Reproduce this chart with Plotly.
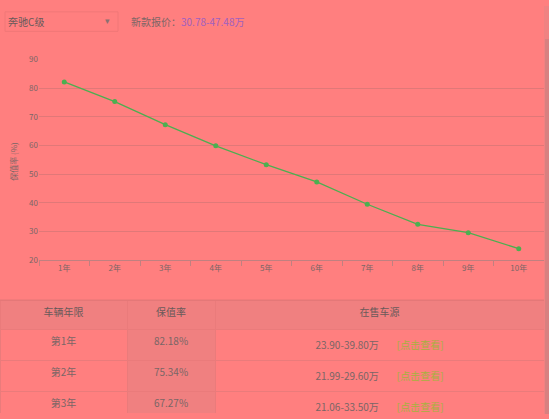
import plotly.graph_objects as go

# data
years = ["1年", "2年", "3年", "4年", "5年", "6年", "7年", "8年", "9年", "10年"]
rates = [82.18, 75.34, 67.27, 59.9, 53.3, 47.3, 39.5, 32.5, 29.6, 24.0]

car_name = "奔驰C级"
new_price = "30.78-47.48万"

table_header = ["车辆年限", "保值率", "在售车源"]
table_years = ["第1年", "第2年", "第3年"]
table_rates = ["82.18%", "75.34%", "67.27%"]
table_prices = ["23.90-39.80万", "21.99-29.60万", "21.06-33.50万"]
link_text = "[点击查看]"

W, H = 549, 419
BG = "#FF7F7F"
DARK = "#F08080"
GRID = "#E07878"
TXT = "#7a6666"
FONT = "Noto Sans CJK SC"

fig = go.Figure()

fig.add_trace(go.Scatter(
    x=years, y=rates, mode="lines+markers",
    line=dict(color="#4CAF50", width=1.3),
    marker=dict(color="#4CAF50", size=5),
    showlegend=False, hoverinfo="skip",
))

src_cells = [p + "        <span style='color:#A8B040'>" + link_text + "</span>"
             for p in table_prices]

fig.add_trace(go.Table(
    domain=dict(x=[0, 544 / W], y=[0, (H - 302) / H]),
    columnwidth=[127, 88, 329],
    header=dict(
        values=table_header, height=29, align="center",
        fill_color=DARK, line=dict(color="#EA7B7B", width=1),
        font=dict(family=FONT, size=10, color="#6a5a5a"),
    ),
    cells=dict(
        values=[table_years, table_rates, src_cells], height=29, align="center",
        fill_color=[BG, DARK, BG], line=dict(color="#EA7B7B", width=1),
        font=dict(family=FONT, size=10, color=TXT),
    ),
))

fig.update_layout(
    width=W, height=H,
    margin=dict(l=0, r=0, t=0, b=0),
    paper_bgcolor=BG, plot_bgcolor=BG,
    font=dict(family=FONT, color=TXT),
    xaxis=dict(
        domain=[39 / W, 544 / W], type="category", range=[-0.5, 9.5],
        showgrid=False, showline=True, linecolor="#c08080", linewidth=1,
        ticks="outside", tickson="boundaries", ticklen=5, tickcolor="#c08080",
        tickfont=dict(size=8, color=TXT), fixedrange=True,
    ),
    yaxis=dict(
        domain=[(H - 261) / H, (H - 55) / H], range=[20, 90], dtick=10,
        showgrid=True, gridcolor=GRID, gridwidth=1, zeroline=False,
        showline=False, ticks="", tickfont=dict(size=8, color=TXT),
        fixedrange=True,
    ),
    shapes=[
        # select box
        dict(type="rect", xref="paper", yref="paper",
             x0=5 / W, x1=118 / W, y0=1 - 26 / H, y1=1 - 6 / H,
             line=dict(color="#F07878", width=1), fillcolor=BG),
        dict(type="line", xref="paper", yref="paper",
             x0=0, x1=544 / W, y0=1 - 302 / H, y1=1 - 302 / H,
             line=dict(color=GRID, width=1)),
        # scrollbar
        dict(type="rect", xref="paper", yref="paper",
             x0=544 / W, x1=1, y0=0, y1=1,
             line=dict(width=0), fillcolor="#F08282"),
        dict(type="rect", xref="paper", yref="paper",
             x0=545 / W, x1=1, y0=0, y1=1 - 34 / H,
             line=dict(width=0), fillcolor="#D88080"),
    ],
    annotations=[
        dict(text=car_name, xref="paper", yref="paper", x=6 / W, y=1 - 16 / H,
             xanchor="left", yanchor="middle", showarrow=False,
             font=dict(size=10, color="#6a5a5a")),
        dict(text="▾", xref="paper", yref="paper", x=107 / W, y=1 - 15 / H,
             xanchor="center", yanchor="middle", showarrow=False,
             font=dict(size=9, color="#8a7070")),
        dict(text="新款报价：<span style='color:#A060C0'>" + new_price + "</span>",
             xref="paper", yref="paper", x=129 / W, y=1 - 16 / H,
             xanchor="left", yanchor="middle", showarrow=False,
             font=dict(size=10, color=TXT)),
        dict(text="保值率 (%)", xref="paper", yref="paper", x=14 / W, y=1 - 160 / H,
             xanchor="center", yanchor="middle", textangle=-90, showarrow=False,
             font=dict(size=8, color=TXT)),
    ],
)

# page body has a default margin; drop it so the figure sits at 0,0
fig.write_html("out.html", config={"displayModeBar": False}, post_script=(
    "document.body.style.margin='0';"
    "document.body.style.overflow='hidden';"
    "document.body.style.background='" + BG + "';"
))
